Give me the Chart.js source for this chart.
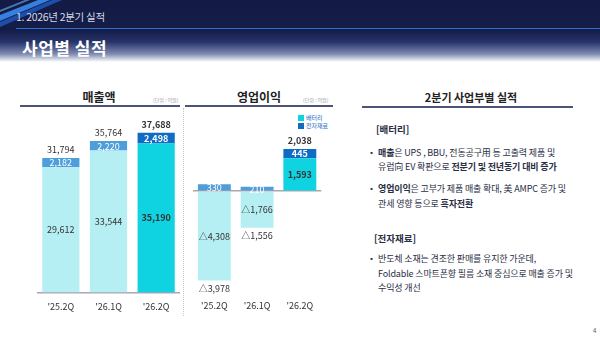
<!DOCTYPE html>
<html>
<head>
<meta charset="utf-8">
<script src="https://cdn.jsdelivr.net/npm/chart.js@4.4.1/dist/chart.umd.min.js"></script>
<style>
  body { margin: 0; width: 600px; height: 337px; overflow: hidden; background: #fff;
         font-family: 'Noto Sans CJK KR', 'Noto Sans', sans-serif; position: relative; }
  .abs { position: absolute; }
  #head { left: 0; top: 0; width: 600px; height: 62px;
          background: linear-gradient(to bottom, #131b45 0px, #141d48 30px, #27346a 42px, #7f8bb0 54px, #fff 62px); }
  #sub { left: 16px; top: 9px; color: #d6dae6; font-size: 10.5px; letter-spacing: -0.3px; }
  #bline { left: 16px; top: 28px; width: 584px; height: 1px; background: #2f6fd0; }
  #title { left: 22px; top: 35px; color: #fff; font-size: 17px; font-weight: bold; letter-spacing: 0.5px; }
  .sec { font-size: 12px; font-weight: bold; color: #222; transform: translateX(-50%); }
  .unit { font-size: 5px; color: #999; }
  .uline { height: 2px; background: #4b5478; }
  #divider { left: 183px; top: 108px; height: 208px; border-left: 1px dotted #c8c8c8; }
  .lg { font-size: 6px; color: #1a6cc4; }
  .lg span { display: inline-block; width: 6px; height: 6px; margin-right: 2px; vertical-align: -1px; }
  .txt { font-size: 9px; color: #2a2e45; letter-spacing: -0.15px; white-space: nowrap; }
  .hd { font-size: 9.5px; font-weight: bold; color: #2a2e45; }
  .bul { font-size: 7px; color: #2a2e45; }
</style>
</head>
<body>
<div id="head" class="abs"></div>
<svg class="abs" style="left:0; top:0;" width="80" height="32">
  <polygon points="0,15 38,0 50,0 0,21" fill="#3a8cf0" opacity="0.9"/>
  <polygon points="0,22 52,0 62,0 0,27" fill="#1f5bc4" opacity="0.8"/>
  <polygon points="0,10 25,0 30,0 0,12" fill="#6fb6ff" opacity="0.6"/>
</svg>
<div id="sub" class="abs">1. 2026년 2분기 실적</div>
<div id="bline" class="abs"></div>
<div id="title" class="abs">사업별 실적</div>

<div class="abs sec" style="left:99px; top:88px;">매출액</div>
<div class="abs unit" style="left:153px; top:96px;">(단위 : 억원)</div>
<div class="abs uline" style="left:20px; top:105px; width:160px;"></div>
<div class="abs sec" style="left:259px; top:88px;">영업이익</div>
<div class="abs unit" style="left:303px; top:96px;">(단위 : 억원)</div>
<div class="abs uline" style="left:185px; top:105px; width:148px;"></div>
<div id="divider" class="abs"></div>

<div class="abs lg" style="left:298px; top:113px;"><span style="background:#0fd3e0"></span>배터리</div>
<div class="abs lg" style="left:298px; top:121px;"><span style="background:#0f6cc5"></span>전자재료</div>

<canvas id="sales" class="abs" style="left:20px; top:110px;" width="162" height="205"></canvas>
<canvas id="op" class="abs" style="left:180px; top:110px;" width="150" height="205"></canvas>

<div class="abs sec" style="left:471px; top:89px; font-size:11px;">2분기 사업부별 실적</div>
<div class="abs uline" style="left:362px; top:106px; width:211px;"></div>
<div class="abs hd" style="left:376px; top:122px;">[배터리]</div>
<div class="abs bul" style="left:368px; top:147px;">▪</div>
<div class="abs txt" style="left:378px; top:146px;"><b>매출</b>은 UPS , BBU, 전동공구用 등 고출력 제품 및</div>
<div class="abs txt" style="left:378px; top:160px;">유럽向 EV 확판으로 <b>전분기 및 전년동기 대비 증가</b></div>
<div class="abs bul" style="left:368px; top:183px;">▪</div>
<div class="abs txt" style="left:378px; top:182px;"><b>영업이익</b>은 고부가 제품 매출 확대, 美 AMPC 증가 및</div>
<div class="abs txt" style="left:378px; top:197px;">관세 영향 등으로 <b>흑자전환</b></div>
<div class="abs hd" style="left:374px; top:231px;">[전자재료]</div>
<div class="abs bul" style="left:368px; top:253px;">▪</div>
<div class="abs txt" style="left:378px; top:252px;">반도체 소재는 견조한 판매를 유지한 가운데,</div>
<div class="abs txt" style="left:378px; top:267px;">Foldable 스마트폰향 필름 소재 중심으로 매출 증가 및</div>
<div class="abs txt" style="left:378px; top:281px;">수익성 개선</div>
<div class="abs" style="left:593px; top:326px; font-size:6px; color:#555;">4</div>

<script>
// values in 억원
var quarters = ["'25.2Q", "'26.1Q", "'26.2Q"];
var salesBattery = [29612, 33544, 35190];
var salesMaterial = [2182, 2220, 2498];
var salesTotal = [31794, 35764, 37688];
var opBattery = [-4308, -1766, 1593];
var opMaterial = [330, 210, 445];
var opTotal = [-3978, -1556, 2038];

var batteryColors = ['#b5eff3', '#b5eff3', '#0fd3e0'];
var materialColors = ['#4d9edb', '#4d9edb', '#0f6cc5'];

Chart.defaults.font.family = "'Noto Sans CJK KR', 'Noto Sans', sans-serif";
Chart.defaults.animation = false;

function fmt(v) {
    var s = Math.abs(v).toLocaleString('en-US');
    return v < 0 ? '△' + s : s;
}

// labels inside the bars and totals outside
var barLabels = {
    id: 'barLabels',
    afterDatasetsDraw: function (chart, args, opts) {
        var ctx = chart.ctx;
        var bat = chart.getDatasetMeta(0).data;
        var mat = chart.getDatasetMeta(1).data;
        ctx.save();
        ctx.textAlign = 'center';
        ctx.textBaseline = 'middle';
        for (var i = 0; i < quarters.length; i++) {
            var bold = i === quarters.length - 1 ? 'bold ' : '';
            ctx.font = bold + '9px ' + Chart.defaults.font.family;
            var b = bat[i], m = mat[i];
            ctx.fillStyle = '#333';
            ctx.fillText(fmt(chart.data.datasets[0].data[i]), b.x, (b.y + b.base) / 2);
            ctx.fillStyle = '#fff';
            ctx.fillText(fmt(chart.data.datasets[1].data[i]), m.x, (m.y + m.base) / 2 + 0.5);
            var t = opts.totals[i];
            ctx.fillStyle = '#333';
            if (t < 0) {
                ctx.fillText(fmt(t), b.x, b.y + 8);
            } else {
                ctx.fillText(fmt(t), m.x, m.y - 8);
            }
        }
        ctx.restore();
    }
};

function makeChart(id, bat, mat, totals, min, max, pad, axisH, tickPad, barPct) {
    return new Chart(document.getElementById(id).getContext('2d'), {
        type: 'bar',
        data: {
            labels: quarters,
            datasets: [
                { label: '배터리', data: bat, backgroundColor: batteryColors, stack: 's' },
                { label: '전자재료', data: mat, backgroundColor: materialColors, stack: 's' }
            ]
        },
        options: {
            responsive: false,
            layout: { padding: pad },
            categoryPercentage: 1,
            barPercentage: barPct,
            plugins: { legend: { display: false }, tooltip: { enabled: false }, barLabels: { totals: totals } },
            scales: {
                x: {
                    stacked: true,
                    grid: { display: false, drawTicks: false },
                    border: { display: false },
                    ticks: { color: '#333', font: { size: 9 }, padding: tickPad, maxRotation: 0 },
                    afterFit: function (scale) { scale.height = axisH; }
                },
                y: {
                    stacked: true,
                    min: min, max: max,
                    ticks: { display: false, stepSize: 500 },
                    border: { display: false },
                    grid: {
                        drawTicks: false,
                        lineWidth: 1.5,
                        color: function (c) { return c.tick && c.tick.value === 0 ? '#a8a8b0' : 'rgba(0,0,0,0)'; }
                    }
                }
            }
        },
        plugins: [barLabels]
    });
}

makeChart('sales', salesBattery, salesMaterial, salesTotal, 0, 40000,
    { top: 13, bottom: 0, left: 17, right: 2 }, 22, 8, 0.78);
makeChart('op', opBattery, opMaterial, opTotal, -4500, 3000,
    { top: 19, bottom: 0, left: 13, right: 5 }, 30.5, 16, 0.77);
</script>
</body>
</html>
